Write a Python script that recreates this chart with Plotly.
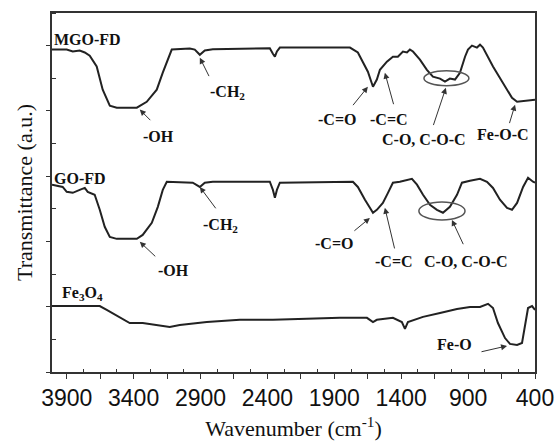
import plotly.graph_objects as go

# FTIR spectra: wavenumber (cm-1) and offset transmittance (a.u.)
mgo_wn = [4010, 3900, 3855, 3803, 3765, 3728, 3676, 3631, 3578, 3526, 3451, 3376,
          3302, 3227, 3182, 3145, 3115, 2980, 2943, 2905, 2868, 2808, 2606, 2382,
          2359, 2344, 2329, 2307, 2105, 1858, 1783, 1724, 1686, 1649, 1611, 1582,
          1559, 1507, 1462, 1425, 1387, 1357, 1335, 1312, 1260, 1208, 1163, 1110,
          1073, 1036, 998, 961, 923, 901, 871, 834, 811, 789, 714, 639, 572, 534,
          460, 400]
mgo_t = [9.88, 9.88, 9.82, 9.85, 9.79, 9.69, 9.36, 8.65, 8.16, 8.10, 8.10, 8.10,
         8.28, 8.65, 9.17, 9.57, 9.88, 9.91, 9.88, 9.72, 9.85, 9.89, 9.91, 9.92,
         9.75, 9.66, 9.82, 9.94, 9.94, 9.94, 9.94, 9.79, 9.48, 9.20, 8.74, 8.96,
         9.26, 9.51, 9.66, 9.66, 9.82, 9.79, 9.88, 9.82, 9.57, 9.26, 9.05, 8.99,
         8.90, 8.99, 8.96, 9.17, 9.66, 9.88, 10.00, 9.94, 10.03, 9.94, 9.36, 8.87,
         8.40, 8.28, 8.31, 8.34]

go_wn = [4010, 3930, 3900, 3855, 3803, 3765, 3743, 3691, 3653, 3616, 3578, 3526,
         3376, 3332, 3264, 3219, 3182, 3152, 2958, 2905, 2868, 2808, 2382, 2359,
         2344, 2329, 2307, 1761, 1724, 1694, 1671, 1634, 1611, 1582, 1537, 1499,
         1462, 1410, 1357, 1320, 1282, 1237, 1185, 1133, 1088, 1036, 983, 946,
         886, 811, 759, 714, 662, 609, 572, 534, 489, 452, 415, 400]
go_t = [5.74, 5.67, 5.52, 5.49, 5.58, 5.64, 5.52, 5.43, 4.97, 4.45, 4.14, 4.08,
        4.08, 4.20, 4.57, 5.06, 5.58, 5.83, 5.80, 5.67, 5.80, 5.83, 5.83, 5.58,
        5.34, 5.58, 5.80, 5.83, 5.67, 5.43, 5.28, 5.03, 4.88, 4.97, 5.18, 5.49,
        5.80, 5.83, 5.89, 5.92, 5.74, 5.43, 5.12, 4.97, 4.88, 5.06, 5.43, 5.80,
        5.86, 5.92, 5.83, 5.64, 5.28, 5.03, 4.97, 5.18, 5.67, 5.95, 5.83, 5.80]

fe_wn = [4010, 3653, 3601, 3504, 3429, 3332, 3227, 3130, 3055, 2853, 2606, 2359,
         2105, 1858, 1656, 1611, 1582, 1462, 1395, 1372, 1350, 1237, 1110, 983,
         886, 811, 751, 714, 677, 624, 587, 534, 497, 475, 452, 422, 400]
fe_t = [2.02, 2.02, 1.90, 1.66, 1.50, 1.50, 1.44, 1.38, 1.44, 1.53, 1.60, 1.60,
        1.63, 1.66, 1.66, 1.53, 1.60, 1.66, 1.53, 1.32, 1.53, 1.69, 1.81, 1.93,
        1.99, 1.99, 2.09, 1.96, 1.50, 1.04, 0.86, 0.83, 0.89, 1.38, 1.96, 2.02,
        1.90]

x_ticks = [3900, 3650, 3400, 3150, 2900, 2650, 2400, 2150, 1900, 1650, 1400,
           1150, 900, 650, 400]
x_labels = ["3900", "", "3400", "", "2900", "", "2400", "", "1900", "", "1400",
            "", "900", "", "400"]

# band labels: text, x, y, horizontal anchor
labels = [
    ("MGO-FD", 4010, 10.18, "left"),
    ("-OH", 3212, 7.21, "center"),
    ("-CH<sub>2</sub>", 2696, 8.56, "center"),
    ("-C=O", 1881, 7.73, "center"),
    ("-C=C", 1492, 7.73, "center"),
    ("C-O, C-O-C", 1230, 7.12, "center"),
    ("Fe-O-C", 639, 7.27, "center"),
    ("GO-FD", 4010, 5.92, "left"),
    ("-OH", 3100, 3.10, "center"),
    ("-CH<sub>2</sub>", 2748, 4.48, "center"),
    ("-C=O", 1903, 3.93, "center"),
    ("-C=C", 1454, 3.40, "center"),
    ("C-O, C-O-C", 916, 3.40, "center"),
    ("Fe<sub>3</sub>O<sub>4</sub>", 3952, 2.42, "left"),
    ("Fe-O", 998, 0.83, "center"),
]

# pointer arrows: tail (x, y) -> head (x, y)
arrows = [
    (3264, 7.67, 3354, 8.04),
    (2831, 9.02, 2905, 9.63),
    (1769, 8.13, 1649, 8.74),
    (1454, 8.16, 1522, 9.17),
    (1163, 7.52, 1066, 8.71),
    (594, 7.58, 549, 8.19),
    (3227, 3.50, 3354, 3.99),
    (2778, 4.97, 2905, 5.67),
    (1761, 4.29, 1634, 4.72),
    (1447, 3.74, 1522, 5.03),
    (931, 3.87, 1021, 4.66),
    (811, 0.61, 609, 0.80),
]

# ellipses around the C-O bands: x0, x1, y0, y1
ellipses = [
    (1230, 894, 8.77, 9.23),
    (1268, 923, 4.66, 5.21),
]

line_color = "#222222"
serif = "Liberation Serif, Times New Roman, serif"

fig = go.Figure()
for xs, ys in [(mgo_wn, mgo_t), (go_wn, go_t), (fe_wn, fe_t)]:
    fig.add_trace(go.Scatter(x=xs, y=ys, mode="lines",
                             line=dict(color=line_color, width=2),
                             showlegend=False, hoverinfo="skip"))

for text, x, y, anchor in labels:
    fig.add_annotation(x=x, y=y, text="<b>" + text + "</b>", showarrow=False,
                       xanchor=anchor, yanchor="middle",
                       font=dict(family=serif, size=16, color="#111"))

for tx, ty, hx, hy in arrows:
    fig.add_annotation(x=hx, y=hy, ax=tx, ay=ty, axref="x", ayref="y",
                       text="", showarrow=True, arrowhead=2, arrowsize=1.2,
                       arrowwidth=1, arrowcolor="#333", standoff=0)

for x0, x1, y0, y1 in ellipses:
    fig.add_shape(type="circle", x0=x0, x1=x1, y0=y0, y1=y1,
                  line=dict(color="#555", width=1.5))

fig.update_layout(
    width=555, height=441,
    margin=dict(l=52, r=20, t=13, b=69),
    paper_bgcolor="white", plot_bgcolor="white",
    xaxis=dict(range=[4010, 400], tickvals=x_ticks, ticktext=x_labels,
               automargin=False,
               ticks="outside", ticklen=5, tickwidth=1.2, tickcolor="#333",
               minor=dict(tick0=25, dtick=250, ticks="inside", ticklen=3,
                          tickwidth=1.2, tickcolor="#333"),
               showline=True, linecolor="#333", linewidth=1.5, mirror=True,
               showgrid=False, zeroline=False,
               tickfont=dict(family="Liberation Sans Narrow, Arial Narrow, Liberation Sans, sans-serif",
                             size=23, color="#111"),
               title=dict(text="Wavenumber (cm<sup>-1</sup>)", standoff=12,
                          font=dict(family=serif, size=22, color="#111"))),
    yaxis=dict(range=[0, 11], tickvals=[0, 2, 4, 6, 8, 10], showticklabels=False,
               automargin=False,
               ticks="outside", ticklen=4, tickwidth=1.2, tickcolor="#333",
               minor=dict(tick0=1, dtick=2, ticks="inside", ticklen=4,
                          tickwidth=1.2, tickcolor="#333"),
               showline=True, linecolor="#333", linewidth=1.5, mirror=True,
               showgrid=False, zeroline=False,
               title=dict(text="Transmittance (a.u.)", standoff=8,
                          font=dict(family=serif, size=22, color="#111"))),
)

fig.write_html("out.html")
